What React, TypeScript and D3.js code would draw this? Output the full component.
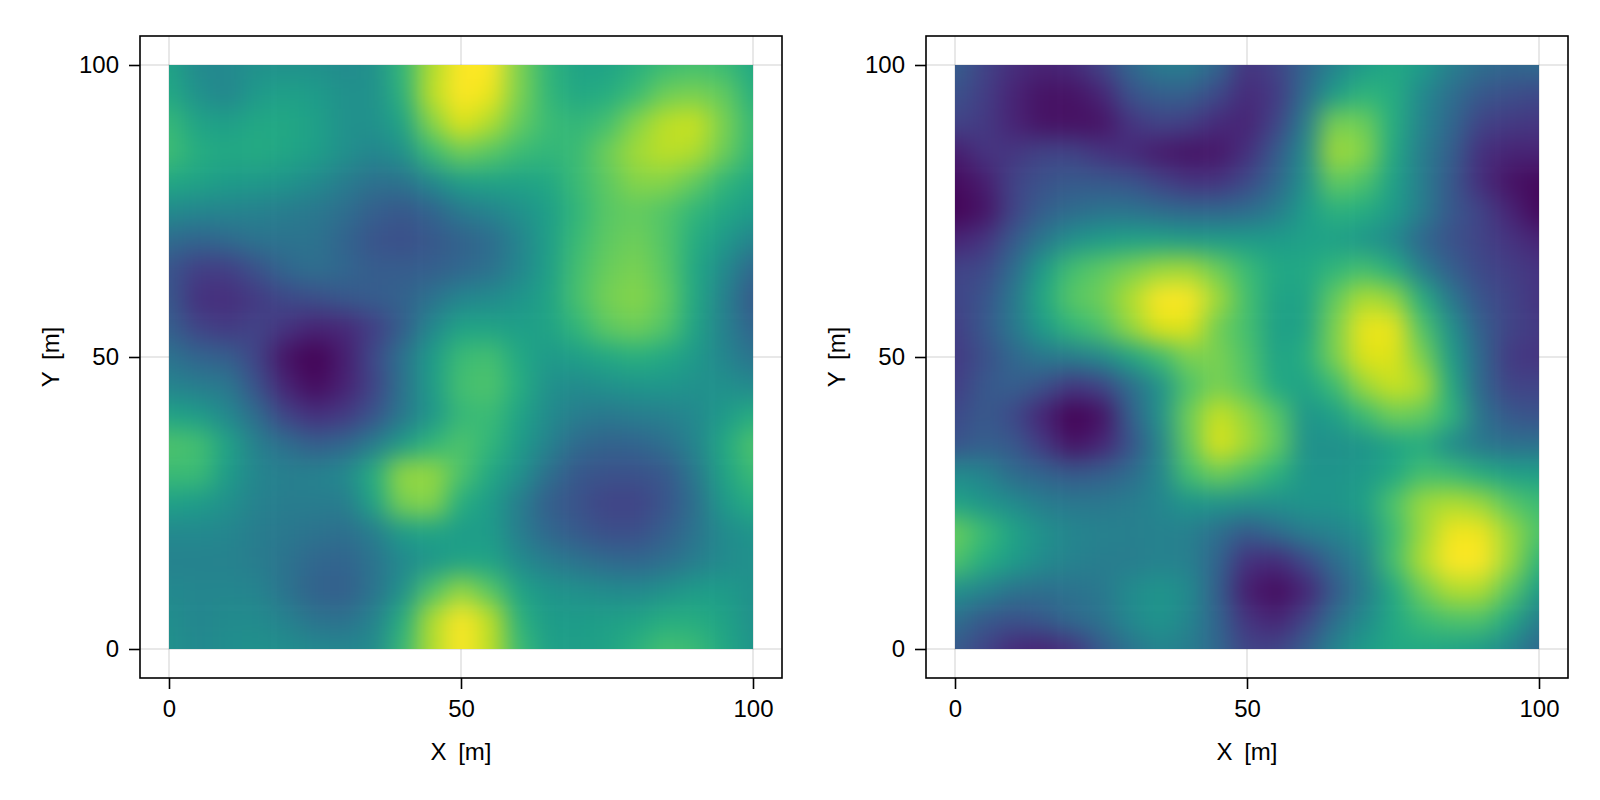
import React, { useEffect, useRef } from "react";
import * as d3 from "d3";

// sample positions of the two fields, in metres
const gridX = d3.range(0, 101, 5);
const gridY = d3.range(100, -1, -5);
const axisTicks = [0, 50, 100];

// values, 0..1 on the colour scale, rows from Y=100 to Y=0
const fieldLeft = [
  [0.58, 0.47, 0.47, 0.5, 0.5, 0.5, 0.48, 0.5, 0.66, 0.88, 1.0, 1.0, 0.8, 0.65, 0.58, 0.58, 0.63, 0.68, 0.7, 0.68, 0.6],
  [0.6, 0.5, 0.46, 0.54, 0.57, 0.55, 0.5, 0.5, 0.64, 0.9, 1.0, 0.97, 0.8, 0.66, 0.6, 0.62, 0.68, 0.78, 0.8, 0.76, 0.63],
  [0.67, 0.58, 0.56, 0.6, 0.6, 0.57, 0.5, 0.5, 0.58, 0.82, 0.95, 0.88, 0.76, 0.68, 0.66, 0.7, 0.82, 0.9, 0.92, 0.8, 0.67],
  [0.69, 0.62, 0.6, 0.61, 0.59, 0.56, 0.5, 0.46, 0.5, 0.68, 0.78, 0.74, 0.68, 0.66, 0.68, 0.78, 0.86, 0.9, 0.88, 0.78, 0.66],
  [0.6, 0.58, 0.55, 0.54, 0.52, 0.48, 0.42, 0.37, 0.38, 0.47, 0.56, 0.58, 0.58, 0.6, 0.68, 0.75, 0.82, 0.82, 0.76, 0.66, 0.6],
  [0.48, 0.46, 0.45, 0.44, 0.42, 0.4, 0.36, 0.3, 0.27, 0.32, 0.41, 0.45, 0.5, 0.56, 0.66, 0.74, 0.76, 0.73, 0.66, 0.6, 0.55],
  [0.35, 0.32, 0.34, 0.38, 0.38, 0.38, 0.32, 0.26, 0.24, 0.27, 0.31, 0.35, 0.45, 0.56, 0.68, 0.75, 0.78, 0.73, 0.62, 0.54, 0.45],
  [0.26, 0.18, 0.18, 0.25, 0.33, 0.36, 0.33, 0.29, 0.29, 0.3, 0.33, 0.37, 0.46, 0.56, 0.7, 0.77, 0.8, 0.74, 0.6, 0.48, 0.33],
  [0.27, 0.14, 0.13, 0.17, 0.22, 0.24, 0.27, 0.29, 0.31, 0.38, 0.46, 0.48, 0.52, 0.58, 0.71, 0.79, 0.82, 0.76, 0.6, 0.44, 0.28],
  [0.3, 0.2, 0.17, 0.2, 0.15, 0.1, 0.11, 0.18, 0.3, 0.47, 0.58, 0.58, 0.56, 0.58, 0.66, 0.75, 0.78, 0.73, 0.58, 0.44, 0.32],
  [0.38, 0.32, 0.3, 0.2, 0.05, 0.0, 0.08, 0.22, 0.38, 0.55, 0.68, 0.7, 0.6, 0.54, 0.56, 0.6, 0.63, 0.6, 0.54, 0.46, 0.38],
  [0.45, 0.42, 0.4, 0.25, 0.1, 0.03, 0.09, 0.2, 0.38, 0.55, 0.7, 0.72, 0.62, 0.5, 0.48, 0.5, 0.52, 0.53, 0.5, 0.5, 0.47],
  [0.58, 0.55, 0.47, 0.35, 0.2, 0.14, 0.17, 0.26, 0.4, 0.53, 0.67, 0.68, 0.58, 0.48, 0.42, 0.4, 0.42, 0.43, 0.47, 0.54, 0.62],
  [0.72, 0.7, 0.58, 0.43, 0.36, 0.3, 0.33, 0.42, 0.55, 0.66, 0.72, 0.66, 0.55, 0.44, 0.34, 0.31, 0.32, 0.36, 0.45, 0.6, 0.72],
  [0.68, 0.68, 0.55, 0.46, 0.43, 0.44, 0.47, 0.62, 0.84, 0.84, 0.72, 0.6, 0.5, 0.36, 0.27, 0.25, 0.25, 0.27, 0.4, 0.58, 0.68],
  [0.57, 0.55, 0.5, 0.44, 0.42, 0.42, 0.42, 0.58, 0.8, 0.82, 0.62, 0.55, 0.42, 0.3, 0.25, 0.2, 0.2, 0.26, 0.36, 0.54, 0.62],
  [0.47, 0.47, 0.46, 0.42, 0.4, 0.38, 0.36, 0.42, 0.55, 0.58, 0.55, 0.55, 0.42, 0.33, 0.28, 0.24, 0.24, 0.3, 0.38, 0.48, 0.52],
  [0.44, 0.44, 0.44, 0.42, 0.38, 0.33, 0.32, 0.38, 0.47, 0.53, 0.58, 0.58, 0.48, 0.42, 0.38, 0.34, 0.33, 0.36, 0.42, 0.48, 0.5],
  [0.47, 0.46, 0.46, 0.45, 0.38, 0.31, 0.3, 0.38, 0.5, 0.72, 0.84, 0.74, 0.58, 0.52, 0.5, 0.48, 0.47, 0.5, 0.55, 0.55, 0.5],
  [0.49, 0.46, 0.48, 0.48, 0.44, 0.38, 0.37, 0.44, 0.62, 0.88, 1.0, 0.9, 0.64, 0.55, 0.55, 0.56, 0.58, 0.62, 0.62, 0.58, 0.5],
  [0.5, 0.47, 0.49, 0.5, 0.49, 0.47, 0.46, 0.48, 0.67, 0.88, 1.0, 0.9, 0.68, 0.57, 0.56, 0.58, 0.64, 0.7, 0.68, 0.6, 0.52],
];

const fieldRight = [
  [0.3, 0.2, 0.13, 0.1, 0.12, 0.2, 0.33, 0.42, 0.42, 0.33, 0.15, 0.2, 0.32, 0.45, 0.55, 0.6, 0.55, 0.43, 0.36, 0.33, 0.35],
  [0.25, 0.18, 0.1, 0.05, 0.05, 0.1, 0.25, 0.3, 0.3, 0.22, 0.12, 0.17, 0.35, 0.55, 0.65, 0.62, 0.47, 0.36, 0.27, 0.24, 0.22],
  [0.2, 0.17, 0.1, 0.05, 0.04, 0.05, 0.15, 0.2, 0.18, 0.12, 0.1, 0.2, 0.42, 0.8, 0.78, 0.62, 0.45, 0.33, 0.2, 0.17, 0.16],
  [0.08, 0.15, 0.16, 0.2, 0.2, 0.15, 0.12, 0.07, 0.05, 0.06, 0.14, 0.28, 0.48, 0.86, 0.82, 0.6, 0.42, 0.3, 0.14, 0.1, 0.1],
  [0.03, 0.08, 0.2, 0.25, 0.28, 0.27, 0.26, 0.2, 0.15, 0.15, 0.22, 0.33, 0.5, 0.76, 0.72, 0.57, 0.42, 0.27, 0.13, 0.05, 0.02],
  [0.01, 0.05, 0.2, 0.3, 0.35, 0.38, 0.38, 0.35, 0.33, 0.33, 0.35, 0.42, 0.55, 0.64, 0.62, 0.55, 0.42, 0.27, 0.2, 0.1, 0.02],
  [0.1, 0.15, 0.28, 0.4, 0.5, 0.55, 0.57, 0.57, 0.55, 0.55, 0.55, 0.55, 0.57, 0.57, 0.53, 0.47, 0.33, 0.25, 0.2, 0.15, 0.1],
  [0.2, 0.22, 0.35, 0.55, 0.7, 0.75, 0.8, 0.85, 0.86, 0.78, 0.68, 0.6, 0.6, 0.66, 0.7, 0.62, 0.42, 0.3, 0.22, 0.18, 0.15],
  [0.2, 0.26, 0.4, 0.6, 0.74, 0.78, 0.88, 1.0, 1.0, 0.86, 0.7, 0.58, 0.58, 0.76, 0.88, 0.84, 0.62, 0.4, 0.26, 0.2, 0.15],
  [0.18, 0.27, 0.4, 0.55, 0.66, 0.72, 0.84, 0.95, 0.95, 0.78, 0.7, 0.56, 0.58, 0.8, 0.97, 0.97, 0.72, 0.5, 0.3, 0.2, 0.17],
  [0.17, 0.24, 0.33, 0.4, 0.42, 0.47, 0.58, 0.68, 0.8, 0.8, 0.72, 0.58, 0.62, 0.8, 0.95, 0.95, 0.8, 0.55, 0.33, 0.17, 0.15],
  [0.18, 0.27, 0.3, 0.25, 0.16, 0.2, 0.35, 0.5, 0.72, 0.8, 0.74, 0.6, 0.58, 0.68, 0.85, 0.92, 0.88, 0.6, 0.33, 0.2, 0.2],
  [0.22, 0.28, 0.22, 0.1, 0.0, 0.04, 0.3, 0.5, 0.78, 0.92, 0.84, 0.74, 0.52, 0.56, 0.68, 0.78, 0.76, 0.65, 0.38, 0.27, 0.25],
  [0.26, 0.3, 0.27, 0.17, 0.05, 0.1, 0.25, 0.45, 0.76, 0.95, 0.86, 0.76, 0.5, 0.5, 0.52, 0.58, 0.62, 0.48, 0.4, 0.36, 0.37],
  [0.48, 0.45, 0.35, 0.32, 0.28, 0.3, 0.35, 0.46, 0.7, 0.78, 0.72, 0.64, 0.52, 0.52, 0.54, 0.6, 0.7, 0.68, 0.62, 0.57, 0.56],
  [0.58, 0.52, 0.48, 0.42, 0.4, 0.4, 0.42, 0.46, 0.52, 0.52, 0.5, 0.5, 0.52, 0.52, 0.56, 0.72, 0.85, 0.88, 0.85, 0.74, 0.68],
  [0.77, 0.68, 0.58, 0.5, 0.46, 0.44, 0.43, 0.44, 0.43, 0.36, 0.28, 0.35, 0.42, 0.45, 0.5, 0.68, 0.85, 0.98, 0.98, 0.85, 0.72],
  [0.72, 0.62, 0.55, 0.48, 0.44, 0.42, 0.42, 0.44, 0.43, 0.32, 0.14, 0.12, 0.22, 0.35, 0.45, 0.7, 0.88, 1.0, 1.0, 0.85, 0.65],
  [0.5, 0.45, 0.38, 0.36, 0.38, 0.4, 0.48, 0.52, 0.48, 0.3, 0.08, 0.03, 0.1, 0.28, 0.42, 0.6, 0.78, 0.88, 0.88, 0.74, 0.55],
  [0.36, 0.28, 0.25, 0.28, 0.34, 0.38, 0.47, 0.52, 0.46, 0.32, 0.15, 0.1, 0.2, 0.36, 0.48, 0.6, 0.68, 0.72, 0.72, 0.6, 0.42],
  [0.28, 0.2, 0.12, 0.1, 0.15, 0.28, 0.38, 0.45, 0.42, 0.33, 0.2, 0.2, 0.3, 0.45, 0.55, 0.6, 0.6, 0.58, 0.55, 0.46, 0.33],
];

const panels = [
  { id: "left", field: fieldLeft, frameLeft: 140 },
  { id: "right", field: fieldRight, frameLeft: 926 },
];

const frameSize = 642;
const frameTop = 36;
const pad = 29;
const fontFamily = "'Liberation Sans', Arial, sans-serif";
const fontSize = 24;

const Panel = ({ id, field, frameLeft }) => {
  const xAxisRef = useRef(null);
  const yAxisRef = useRef(null);

  const x = d3
    .scaleLinear()
    .domain([0, 100])
    .range([frameLeft + pad, frameLeft + frameSize - pad]);
  const y = d3
    .scaleLinear()
    .domain([0, 100])
    .range([frameTop + frameSize - pad, frameTop + pad]);

  useEffect(() => {
    const style = (sel) => {
      sel.select(".domain").remove();
      sel.selectAll("line").attr("stroke", "#000").attr("stroke-width", 1.6);
      sel
        .selectAll("text")
        .attr("fill", "#000")
        .style("font-family", fontFamily)
        .style("font-size", `${fontSize}px`);
    };
    d3.select(xAxisRef.current)
      .call(d3.axisBottom(x).tickValues(axisTicks).tickSize(11).tickPadding(11))
      .call(style);
    d3.select(yAxisRef.current)
      .call(d3.axisLeft(y).tickValues(axisTicks).tickSize(11).tickPadding(10))
      .call(style);
  }, []);

  const [x0, x1] = x.range();
  const [y0, y1] = y.range();
  const bleed = 60;

  return (
    <g>
      <defs>
        <clipPath id={`clip-${id}`}>
          <rect x={x0} y={y1} width={x1 - x0} height={y0 - y1} />
        </clipPath>
        <filter
          id={`smooth-${id}`}
          filterUnits="userSpaceOnUse"
          x={x0 - bleed}
          y={y1 - bleed}
          width={x1 - x0 + 2 * bleed}
          height={y0 - y1 + 2 * bleed}
          colorInterpolationFilters="sRGB"
        >
          <feGaussianBlur stdDeviation={12} />
        </filter>
      </defs>

      {/* grid */}
      {axisTicks.map((t) => (
        <g key={t} stroke="#000" strokeOpacity={0.12} strokeWidth={1.5}>
          <line x1={x(t)} x2={x(t)} y1={frameTop} y2={frameTop + frameSize} />
          <line x1={frameLeft} x2={frameLeft + frameSize} y1={y(t)} y2={y(t)} />
        </g>
      ))}

      {/* field */}
      <g clipPath={`url(#clip-${id})`}>
        <g filter={`url(#smooth-${id})`}>
          {field.map((row, j) =>
            row.map((v, i) => {
              // border cells run on past the clip so the blur keeps their colour
              const left = i === 0 ? x0 - bleed : x(gridX[i] - 2.5);
              const right = i === gridX.length - 1 ? x1 + bleed : x(gridX[i] + 2.5);
              const top = j === 0 ? y1 - bleed : y(gridY[j] + 2.5);
              const bottom = j === gridY.length - 1 ? y0 + bleed : y(gridY[j] - 2.5);
              return (
                <rect
                  key={`${i}-${j}`}
                  x={left}
                  y={top}
                  width={right - left + 0.5}
                  height={bottom - top + 0.5}
                  fill={d3.interpolateViridis(v)}
                />
              );
            })
          )}
        </g>
      </g>

      {/* frame */}
      <rect
        x={frameLeft}
        y={frameTop}
        width={frameSize}
        height={frameSize}
        fill="none"
        stroke="#000"
        strokeWidth={1.6}
      />
      <g ref={xAxisRef} transform={`translate(0, ${frameTop + frameSize})`} />
      <g ref={yAxisRef} transform={`translate(${frameLeft}, 0)`} />

      <text
        x={(x0 + x1) / 2}
        y={760}
        textAnchor="middle"
        fontFamily={fontFamily}
        fontSize={fontSize}
        wordSpacing={5}
      >
        X [m]
      </text>
      <text
        transform={`translate(${frameLeft - 81}, ${(y0 + y1) / 2}) rotate(-90)`}
        textAnchor="middle"
        fontFamily={fontFamily}
        fontSize={fontSize}
        wordSpacing={5}
      >
        Y [m]
      </text>
    </g>
  );
};

export default function App() {
  return (
    <svg
      width={1600}
      height={800}
      style={{ position: "absolute", left: 0, top: 0, background: "#fff" }}
    >
      {panels.map((p) => (
        <Panel key={p.id} id={p.id} field={p.field} frameLeft={p.frameLeft} />
      ))}
    </svg>
  );
}
